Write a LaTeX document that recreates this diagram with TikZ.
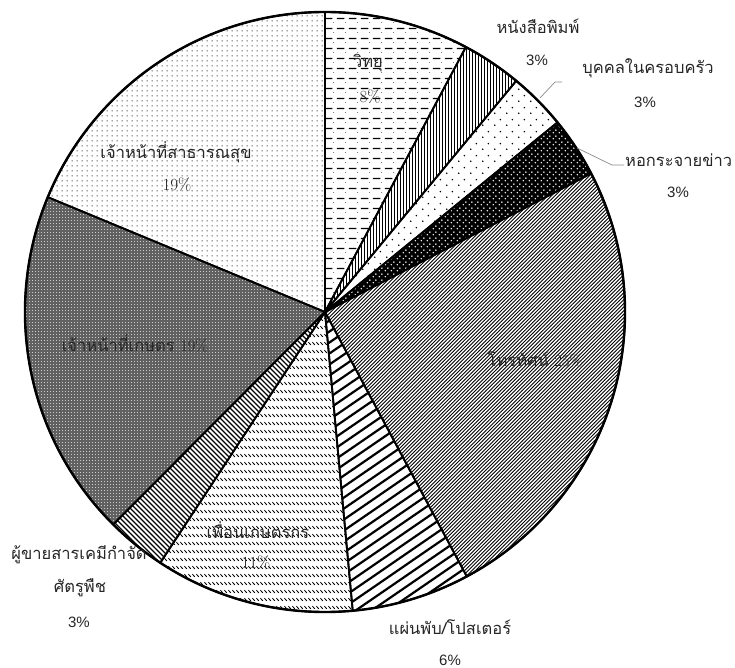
\documentclass[tikz,border=0pt]{standalone}
\usepackage{fontspec}
\setmainfont{Liberation Sans}
\newfontfamily\thaifont[Script=Thai]{Loma}
\newfontfamily\lmfont{Latin Modern Roman}
\usetikzlibrary{patterns}

\pgfdeclarepatternformonly{hdash}{\pgfqpoint{0pt}{0pt}}{\pgfqpoint{12pt}{9.6pt}}{\pgfqpoint{12pt}{9.6pt}}{%
  \pgfsetlinewidth{1.3pt}%
  \pgfpathmoveto{\pgfqpoint{1pt}{4.8pt}}\pgfpathlineto{\pgfqpoint{9pt}{4.8pt}}\pgfusepath{stroke}%
  \pgfpathcircle{\pgfqpoint{10.5pt}{0.5pt}}{0.4pt}\pgfusepath{fill}}
\pgfdeclarepatternformonly{vdense}{\pgfqpoint{0pt}{-1pt}}{\pgfqpoint{3pt}{4pt}}{\pgfqpoint{3pt}{3pt}}{%
  \pgfsetlinewidth{1.6pt}%
  \pgfpathmoveto{\pgfqpoint{1.5pt}{-1pt}}\pgfpathlineto{\pgfqpoint{1.5pt}{4pt}}\pgfusepath{stroke}}
\pgfdeclarepatternformonly{sparsedots}{\pgfqpoint{0pt}{0pt}}{\pgfqpoint{12pt}{12pt}}{\pgfqpoint{12pt}{12pt}}{%
  \pgfpathcircle{\pgfqpoint{3pt}{3pt}}{0.9pt}\pgfpathcircle{\pgfqpoint{9pt}{9pt}}{0.9pt}\pgfusepath{fill}}
\pgfdeclarepatternformonly{wdots}{\pgfqpoint{0pt}{0pt}}{\pgfqpoint{6pt}{6pt}}{\pgfqpoint{6pt}{6pt}}{%
  \pgfpathcircle{\pgfqpoint{1.5pt}{1.5pt}}{0.9pt}\pgfpathcircle{\pgfqpoint{4.5pt}{4.5pt}}{0.9pt}\pgfusepath{fill}}
\pgfdeclarepatternformonly{fineNE}{\pgfqpoint{-1pt}{-1pt}}{\pgfqpoint{5pt}{5pt}}{\pgfqpoint{3.6pt}{3.6pt}}{%
  \pgfsetlinewidth{0.9pt}%
  \pgfpathmoveto{\pgfqpoint{0pt}{0pt}}\pgfpathlineto{\pgfqpoint{3.7pt}{3.7pt}}\pgfusepath{stroke}}
\pgfdeclarepatternformonly{wideNE}{\pgfqpoint{-1pt}{-1pt}}{\pgfqpoint{17pt}{12pt}}{\pgfqpoint{16pt}{11pt}}{%
  \pgfsetlinewidth{2.2pt}%
  \pgfpathmoveto{\pgfqpoint{-0.5pt}{-0.35pt}}\pgfpathlineto{\pgfqpoint{16.5pt}{11.35pt}}\pgfusepath{stroke}}
\pgfdeclarepatternformonly{midNW}{\pgfqpoint{-1pt}{-1pt}}{\pgfqpoint{6pt}{6pt}}{\pgfqpoint{5pt}{5pt}}{%
  \pgfsetlinewidth{1.1pt}%
  \pgfpathmoveto{\pgfqpoint{0pt}{5pt}}\pgfpathlineto{\pgfqpoint{5pt}{0pt}}\pgfusepath{stroke}}
\pgfdeclarepatternformonly{dashNW}{\pgfqpoint{0pt}{0pt}}{\pgfqpoint{4pt}{8pt}}{\pgfqpoint{4pt}{8pt}}{%
  \pgfsetlinewidth{1pt}%
  \pgfpathmoveto{\pgfqpoint{0.5pt}{6.5pt}}\pgfpathlineto{\pgfqpoint{3.5pt}{3.5pt}}\pgfusepath{stroke}}
\pgfdeclarepatternformonly{finedots}{\pgfqpoint{0pt}{0pt}}{\pgfqpoint{5pt}{5pt}}{\pgfqpoint{5pt}{5pt}}{%
  \pgfpathcircle{\pgfqpoint{2.5pt}{2.5pt}}{0.7pt}\pgfusepath{fill}}
\pgfdeclarepatternformonly{checkw}{\pgfqpoint{0pt}{0pt}}{\pgfqpoint{3pt}{3pt}}{\pgfqpoint{3pt}{3pt}}{%
  \pgfpathrectangle{\pgfqpoint{0pt}{0pt}}{\pgfqpoint{1.3pt}{1.3pt}}\pgfusepath{fill}}

\tikzset{
  sliceborder/.style={draw=black, line width=1.8pt, line join=round},
  outlbl/.style={font=\thaifont\fontsize{16.5}{20}\selectfont, inner sep=0pt, text=black!85},
  outpct/.style={font=\fontsize{15}{18}\selectfont, inner sep=0pt, text=black!85},
  inlbl/.style={font=\thaifont\fontsize{16.5}{20}\selectfont, inner sep=0pt, text=black!85},
  inpct/.style={font=\lmfont\fontsize{17}{20}\selectfont, inner sep=0pt, text=black!85},
  leader/.style={draw=black!45, line width=0.7pt},
}

\newcommand{\mysector}[3]{(0,0) -- (#1:300pt) arc[start angle=#1, end angle=#2, radius=300pt] -- cycle}

\begin{document}
\begin{tikzpicture}[x=1pt,y=1pt]
\useasboundingbox (-325,-356) rectangle (410,312);
\fill[white] (-325,-356) rectangle (410,312);

% slices (fills)
\path[fill=white] \mysector{90}{62}{};
\path[pattern=hdash] \mysector{90}{62}{};
\path[fill=white] \mysector{62}{50.4}{};
\path[pattern=vdense] \mysector{62}{50.4}{};
\path[fill=white] \mysector{50.4}{39.2}{};
\path[pattern=sparsedots] \mysector{50.4}{39.2}{};
\path[fill=black] \mysector{39.2}{27.5}{};
\path[pattern=wdots, pattern color=white] \mysector{39.2}{27.5}{};
\path[fill=white] \mysector{27.5}{-61.8}{};
\path[pattern=fineNE] \mysector{27.5}{-61.8}{};
\path[fill=white] \mysector{-61.8}{-84.7}{};
\path[pattern=wideNE] \mysector{-61.8}{-84.7}{};
\path[fill=white] \mysector{-84.7}{-123.3}{};
\path[pattern=dashNW] \mysector{-84.7}{-123.3}{};
\path[fill=white] \mysector{-123.3}{-134.9}{};
\path[pattern=midNW] \mysector{-123.3}{-134.9}{};
\path[fill=black!62] \mysector{-134.9}{-202.5}{};
\path[pattern=checkw, pattern color=white!80!black] \mysector{-134.9}{-202.5}{};
\path[fill=white] \mysector{-202.5}{-270}{};
\path[pattern=finedots] \mysector{-202.5}{-270}{};

% borders
\foreach \a/\b in {90/62, 62/50.4, 50.4/39.2, 39.2/27.5, 27.5/-61.8, -61.8/-84.7, -84.7/-123.3, -123.3/-134.9, -134.9/-202.5, -202.5/-270}
  \path[sliceborder] \mysector{\a}{\b}{};
\draw[line width=2.4pt] (0,0) circle[radius=300pt];

% inside labels
\node[inlbl] (radio) at (43,249) {วิทยุ};
\node[inpct] (radiop) at (45,215) {8\%};
\node[inlbl] (tv) at (210,-48) {โทรทัศน์ {\lmfont 25\%}};
\node[inlbl] (friend) at (-67,-218) {เพื่อนเกษตรกร};
\node[inpct] (friendp) at (-69,-251) {11\%};
\node[inlbl] (agri) at (-190,-31) {เจ้าหน้าที่เกษตร {\lmfont 19\%}};
\node[inlbl] (health) at (-149,160) {เจ้าหน้าที่สาธารณสุข};
\node[inpct] (healthp) at (-148,127) {19\%};

% outside labels
\node[outlbl] (news) at (213,286) {หนังสือพิมพ์};
\node[outpct] (newsp) at (212,252) {3\%};
\node[outlbl] (family) at (323,244) {บุคคลในครอบครัว};
\node[outpct] (familyp) at (320,210) {3\%};
\node[outlbl, anchor=west] (tower) at (300,152) {หอกระจายข่าว};
\node[outpct] (towerp) at (353,120) {3\%};
\node[outlbl] (leaflet) at (125,-315) {แผ่นพับ/โปสเตอร์};
\node[outpct] (leafletp) at (125,-348) {6\%};
\node[outlbl] (seller) at (-246,-243) {ผู้ขายสารเคมีกำจัด};
\node[outlbl] (seller2) at (-245,-276) {ศัตรูพืช};
\node[outpct] (sellerp) at (-246,-310) {3\%};

% leader lines
\coordinate (famedge) at (215,214);
\coordinate (fambend) at (230,230);
\coordinate (famend) at (237,230);
\draw[leader] (famedge) -- (fambend) -- (famend);
\coordinate (towedge) at (252,164);
\coordinate (towbend) at (287,147);
\coordinate (towend) at (299,147);
\draw[leader] (towedge) -- (towbend) -- (towend);
\end{tikzpicture}
\end{document}
